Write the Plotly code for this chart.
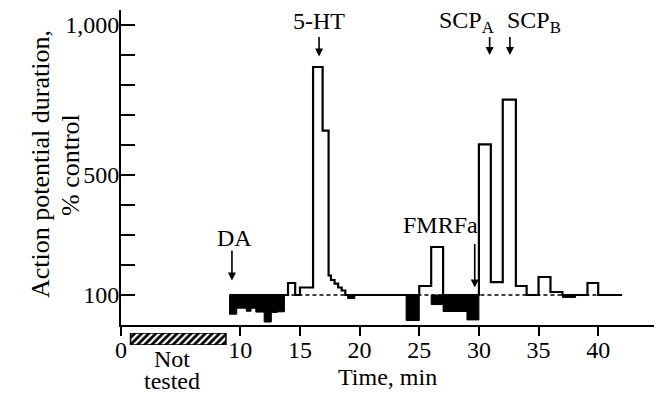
import plotly.graph_objects as go

# ---- data ----
# outline trace: value held from each time until the next one
trace_t = [9.1, 14.0, 14.6, 15.0, 16.1, 16.9, 17.4, 17.6, 17.9, 18.2, 18.5, 18.8,
           25.0, 26.0, 27.0, 30.0, 31.0, 32.0, 33.1, 34.0, 35.0, 36.0, 37.0,
           39.1, 40.0, 42.0]
trace_v = [100, 140, 100, 125, 860, 648, 165, 150, 138, 125, 115, 100,
           130, 260, 100, 602, 143, 751, 130, 100, 160, 110, 100,
           140, 100, 100]

# decreases (filled black below the 100 % line)
dec_start = [9.1, 9.7, 10.5, 10.9, 11.3, 12.0, 12.6, 13.1, 19.0, 23.9, 26.0, 27.0, 29.0, 37.0]
dec_end = [9.7, 10.5, 10.9, 11.3, 12.0, 12.6, 13.1, 13.7, 19.6, 25.0, 27.0, 29.0, 30.0, 38.1]
dec_v = [36, 56, 46, 56, 43, 10, 42, 44, 88, 15, 68, 45, 17, 92]

baseline_value = 100
dashed_start, dashed_end = 13.7, 42.0

not_tested_start, not_tested_end = 0.8, 8.8

x_tickvals = [0, 10, 15, 20, 25, 30, 35, 40]
y_tickvals = [100, 200, 300, 400, 500, 600, 700, 800, 900, 1000]
y_ticktext = ["100", "", "", "", "500", "", "", "", "", "1,000"]

FONT = "Liberation Serif"
W, H = 662, 393
OFF = 8  # the html page puts the figure 8 px right of / below the window corner

# wanted positions in window pixels
PLOT_L, PLOT_R, PLOT_T, PLOT_B = 121, 660, 10, 325

ML, MR, MT, MB = PLOT_L - OFF, W - (PLOT_R - OFF), PLOT_T - OFF, 0


def py(pix):
    """window pixel row -> paper fraction"""
    return (H - MB - (pix - OFF)) / (H - MT - MB)


fig = go.Figure()

# dashed control line
fig.add_trace(go.Scatter(x=[dashed_start, dashed_end], y=[baseline_value, baseline_value],
                         mode="lines", line=dict(color="black", width=1.5, dash="4px,3px"),
                         hoverinfo="skip", showlegend=False))

# black filled decreases
px, pyv = [], []
for s, e, v in zip(dec_start, dec_end, dec_v):
    px += [s, s, e, e, s, None]
    pyv += [baseline_value, v, v, baseline_value, baseline_value, None]
fig.add_trace(go.Scatter(x=px, y=pyv, mode="lines", fill="toself", fillcolor="black",
                         line=dict(color="black", width=1), showlegend=False, hoverinfo="skip"))

# outline step trace
fig.add_trace(go.Scatter(x=trace_t, y=trace_v, mode="lines", line_shape="hv",
                         line=dict(color="black", width=2.2), showlegend=False))

# hatched "not tested" bar (own little subplot just under the time axis)
fig.add_trace(go.Bar(x=[(not_tested_start + not_tested_end) / 2], y=[1], base=[0],
                     width=[not_tested_end - not_tested_start], xaxis="x2", yaxis="y2",
                     marker=dict(color="white", line=dict(color="black", width=1.5),
                                 pattern=dict(shape="/", fgcolor="black", bgcolor="white",
                                              size=5, solidity=0.55)),
                     showlegend=False, hoverinfo="skip"))

fig.update_layout(
    template="none",
    width=W, height=H,
    margin=dict(l=ML, r=MR, t=MT, b=MB, autoexpand=False),
    plot_bgcolor="white", paper_bgcolor="white",
    font=dict(family=FONT, size=24, color="black"),
    showlegend=False,
    xaxis=dict(range=[0, 45.18], domain=[0, 1], anchor="y", showline=True, linecolor="black",
               linewidth=2, tickvals=x_tickvals, ticktext=[str(v) for v in x_tickvals],
               ticks="outside", ticklen=9, tickwidth=2, tickcolor="black",
               ticklabelstandoff=-7,
               showgrid=False, zeroline=False, automargin=False),
    yaxis=dict(range=[0, 1050], domain=[py(PLOT_B), 1], anchor="x", showline=True,
               linecolor="black", linewidth=2, tickvals=y_tickvals, ticktext=y_ticktext,
               ticks="inside", ticklen=14, tickwidth=2, tickcolor="black",
               ticklabelstandoff=-5,
               showgrid=False, zeroline=False, automargin=False),
    xaxis2=dict(matches="x", anchor="y2", visible=False),
    yaxis2=dict(range=[0, 1], domain=[py(345), py(333)], anchor="x2", visible=False),
)

ann = []
# text labels
ann.append(dict(x=9.5, y=290, text="DA", showarrow=False, xref="x", yref="y"))
ann.append(dict(x=16.6, y=1013, text="5-HT", showarrow=False, xref="x", yref="y"))
ann.append(dict(x=26.8, y=333, text="FMRFa", showarrow=False, xref="x", yref="y"))
ann.append(dict(x=31.4, y=1010, text="SCP<sub>A</sub>", showarrow=False, xref="x", yref="y",
                xanchor="right"))
ann.append(dict(x=32.2, y=1010, text="SCP<sub>B</sub>", showarrow=False, xref="x", yref="y",
                xanchor="left"))
# arrows
for x, tail, tip in [(9.3, 253, 148), (16.6, 965, 895), (29.65, 275, 125),
                     (30.9, 965, 900), (32.6, 965, 900)]:
    ann.append(dict(x=x, y=tip, ax=x, ay=tail, xref="x", yref="y", axref="x", ayref="y",
                    text="", showarrow=True, arrowhead=2, arrowsize=1, arrowwidth=1.6,
                    arrowcolor="black", standoff=0))
# axis / bar captions
ann.append(dict(x=22.3, y=py(377), xref="x", yref="paper", text="Time, min", showarrow=False,
                yanchor="middle"))
ann.append(dict(x=4.3, y=py(359), xref="x", yref="paper", text="Not", showarrow=False,
                yanchor="middle"))
ann.append(dict(x=4.3, y=py(381), xref="x", yref="paper", text="tested", showarrow=False,
                yanchor="middle"))
# y-axis title (two rotated lines), centred on given window pixels
ann.append(dict(x=0, xshift=40 - PLOT_L, y=py(164), xref="paper", yref="paper",
                xanchor="center", yanchor="middle",
                text="Action potential duration,", textangle=-90, showarrow=False,
                font=dict(size=26)))
ann.append(dict(x=0, xshift=70 - PLOT_L, y=py(165), xref="paper", yref="paper",
                xanchor="center", yanchor="middle",
                text="% control", textangle=-90, showarrow=False, font=dict(size=26)))
fig.update_layout(annotations=ann)

fig.write_html("out.html")
